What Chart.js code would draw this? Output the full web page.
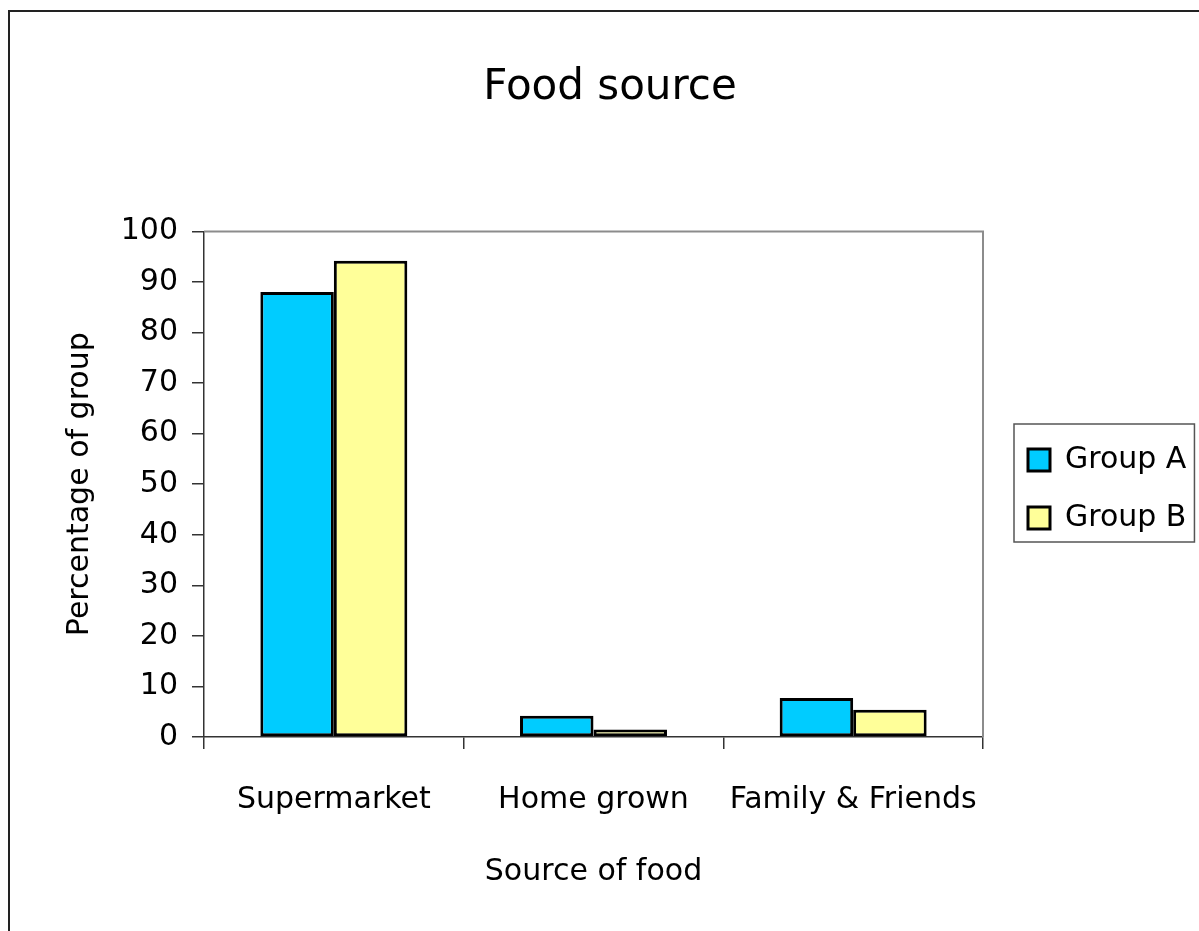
<!DOCTYPE html>
<html>
<head>
<meta charset="utf-8">
<script src="https://cdn.jsdelivr.net/npm/chart.js@4/dist/chart.umd.min.js"></script>
<style>
  html, body { margin: 0; padding: 0; background: #fff; }
  #frame { position: absolute; left: 8px; top: 10px; width: 1400px; height: 1200px;
           border-left: 2px solid #222; border-top: 2px solid #222; }
  #chart { position: absolute; left: 0; top: 0; }
</style>
</head>
<body>
<div id="frame"></div>
<canvas id="chart" width="1199" height="931"></canvas>
<script>
const categories = ['Supermarket', 'Home grown', 'Family & Friends'];
const groupA = [88, 4.2, 7.7];
const groupB = [94.2, 1.5, 5.4];
const yTicks = { min: 0, max: 100, step: 10 };

const FONT = "'Comic Sans MS', 'DejaVu Sans', sans-serif";

// grey border on top and right of the plot area, legend frame
const frames = {
  id: 'frames',
  beforeDatasetsDraw(chart) {
    const { ctx, chartArea: a } = chart;
    ctx.save();
    ctx.strokeStyle = '#8c8c8c';
    ctx.lineWidth = 2;
    ctx.beginPath();
    ctx.moveTo(a.left, a.top);
    ctx.lineTo(a.right, a.top);
    ctx.lineTo(a.right, a.bottom);
    ctx.stroke();
    ctx.restore();
  },
  afterDraw(chart) {
    const hb = chart.legend.legendHitBoxes;
    if (!hb || !hb.length) return;
    const first = hb[0], last = hb[hb.length - 1];
    const w = Math.max(...hb.map(h => h.width));
    const { ctx } = chart;
    ctx.save();
    ctx.strokeStyle = '#555';
    ctx.lineWidth = 1.5;
    const top = first.top + first.height / 2 - 36;
    const bottom = last.top + last.height / 2 + 24;
    ctx.strokeRect(first.left - 14, top, w + 22, bottom - top);
    ctx.restore();
  }
};

new Chart(document.getElementById('chart'), {
  type: 'bar',
  data: {
    labels: categories,
    datasets: [
      {
        label: 'Group A',
        data: groupA,
        yAxisID: 'y',
        backgroundColor: '#00ccff',
        borderColor: '#000',
        borderWidth: 3,
        borderSkipped: false,
      },
      {
        label: 'Group B',
        data: groupB,
        yAxisID: 'y',
        backgroundColor: '#ffff99',
        borderColor: '#000',
        borderWidth: 3,
        borderSkipped: false,
      },
    ],
  },
  options: {
    responsive: false,
    animation: false,
    layout: { padding: { left: 25, right: 4, top: 0, bottom: 0 } },
    datasets: { bar: { categoryPercentage: 0.566, barPercentage: 1 } },
    plugins: {
      title: {
        display: true,
        text: 'Food source',
        color: '#000',
        font: { family: FONT, size: 42, weight: 'normal', lineHeight: 1.2 },
        padding: { top: 63, bottom: 118 },
      },
      legend: {
        position: 'right',
        title: { display: true, text: ' ', font: { size: 7, lineHeight: 1 }, padding: { top: 20, bottom: 20 } },
        labels: {
          color: '#000',
          font: { family: FONT, size: 30 },
          boxWidth: 22,
          boxHeight: 22,
          padding: 28,
        },
      },
      tooltip: { enabled: false },
    },
    scales: {
      x: {
        offset: true,
        grid: { offset: true, drawOnChartArea: false, drawTicks: true, tickLength: 12, tickColor: '#333', lineWidth: 1.5 },
        border: { display: true, color: '#333', width: 1.5 },
        ticks: { color: '#000', font: { family: FONT, size: 30 }, padding: 33, maxRotation: 0 },
        title: {
          display: true,
          text: 'Source of food',
          color: '#000',
          font: { family: FONT, size: 30, lineHeight: 1.2 },
          padding: { top: 0, bottom: 41 },
        },
        afterFit(scale) { scale.height = 194; },
      },
      y: {
        min: yTicks.min,
        max: yTicks.max,
        grid: { drawOnChartArea: false, drawTicks: true, tickLength: 12, tickColor: '#333', lineWidth: 1.5 },
        border: { display: true, color: '#333', width: 1.5 },
        ticks: { stepSize: yTicks.step, color: '#000', font: { family: FONT, size: 30 }, padding: 14 },
        title: {
          display: true,
          text: 'Percentage of group',
          color: '#000',
          font: { family: FONT, size: 30, lineHeight: 1.2 },
          padding: { top: 37, bottom: 0 },
        },
        afterFit(scale) { scale.width = 179; },
      },
      pad: {
        type: 'linear',
        position: 'right',
        display: true,
        grid: { display: false },
        border: { display: false },
        ticks: { display: false },
        afterFit(scale) { scale.width = 17; },
      },
    },
  },
  plugins: [frames],
});
</script>
</body>
</html>
